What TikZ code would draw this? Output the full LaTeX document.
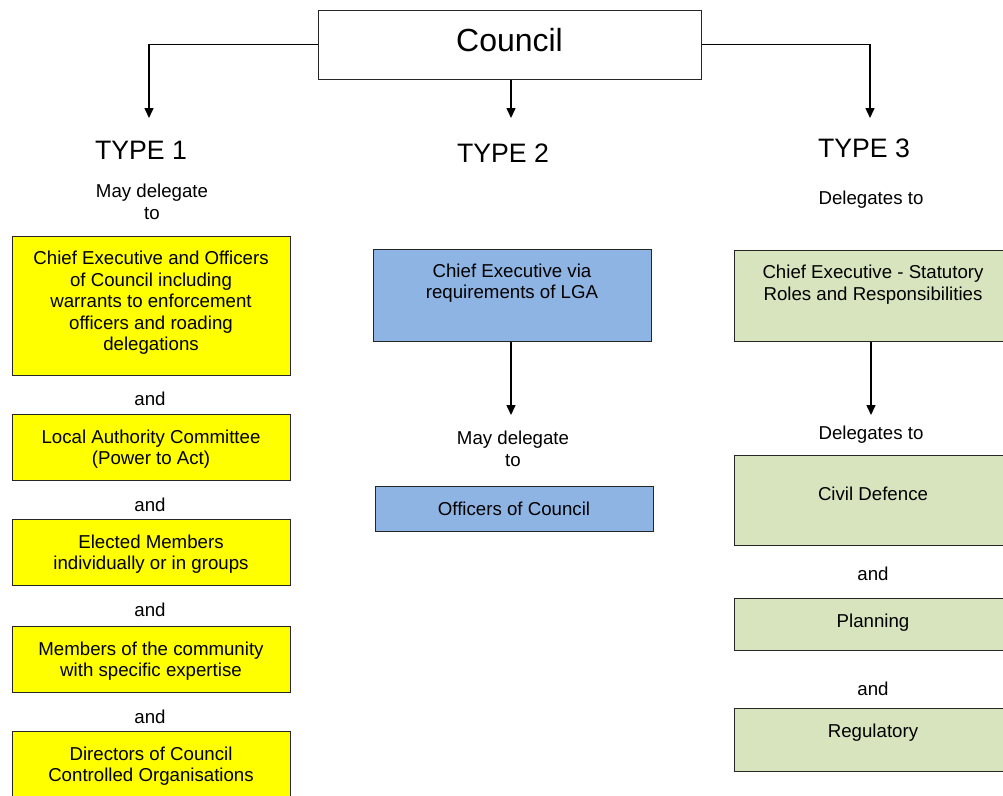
\documentclass[tikz,border=0pt]{standalone}
\usepackage{fontspec}
\setmainfont{Liberation Sans}
\usetikzlibrary{calc}
\usetikzlibrary{arrows.meta}
\definecolor{boxyellow}{HTML}{FFFF00}
\definecolor{boxblue}{HTML}{8EB4E3}
\definecolor{boxgreen}{HTML}{D7E4BD}
\tikzstyle{lbl} = [inner sep=0, align=center, font=\fontsize{18.67}{21.47}\selectfont]
\tikzstyle{typelbl} = [inner sep=0, font=\fontsize{26.67}{30}\selectfont]
\tikzstyle{dbox} = [lbl, draw=black!85, line width=1pt, minimum width=278pt]
\tikzstyle{colorYellow} = [fill=boxyellow]
\tikzstyle{colorBlue} = [fill=boxblue]
\tikzstyle{colorGreen} = [fill=boxgreen]
\tikzstyle{conn} = [line width=1.5pt, -{Triangle[length=10pt,width=9pt]}]

\begin{document}
\begin{tikzpicture}[x=1pt,y=-1pt]
    \useasboundingbox (0,0) rectangle (1003,795);

    \node[dbox, minimum width=383pt, minimum height=69pt, font=\fontsize{32}{36}\selectfont, text depth=9pt] (council) at (509.5,44.5) {Council};

    \node[typelbl] (type1) at (141,150) {TYPE 1};
    \node[typelbl] (type2) at (503,153) {TYPE 2};
    \node[typelbl] (type3) at (864,148) {TYPE 3};

    \coordinate (t1) at (149,118);
    \coordinate (t2) at (511,118);
    \coordinate (t3) at (870,118);
    \draw[conn] (council.west) -| (t1);
    \draw[conn] (council.south -| t2) -- (t2);
    \draw[conn] (council.east) -| (t3);

    \node[lbl] (may1) at (152,202) {May delegate\\to};
    \node[dbox, colorYellow, minimum height=139pt, text depth=9pt] (yel1) at (151,305.5) {Chief Executive and Officers\\of Council including\\warrants to enforcement\\officers and roading\\delegations};
    \node[lbl] (and1) at (150,399) {and};
    \node[dbox, colorYellow, minimum height=66pt, text depth=0pt] (yel2) at (151,447) {Local Authority Committee\\(Power to Act)};
    \node[lbl] (and2) at (150,505) {and};
    \node[dbox, colorYellow, minimum height=66pt, text depth=0pt] (yel3) at (151,552) {Elected Members\\individually or in groups};
    \node[lbl] (and3) at (150,610) {and};
    \node[dbox, colorYellow, minimum height=66pt, text depth=0pt] (yel4) at (151,659) {Members of the community\\with specific expertise};
    \node[lbl] (and4) at (150,717) {and};
    \node[dbox, colorYellow, minimum height=66pt, text depth=0pt] (yel5) at (151,764) {Directors of Council\\Controlled Organisations};

    \node[dbox, colorBlue, minimum height=92pt, text depth=28pt] (blu1) at (512,295) {Chief Executive via\\requirements of LGA};
    \coordinate (t4) at (511,415);
    \draw[conn] (blu1.south -| t4) -- (t4);
    \node[lbl] (may2) at (513,449) {May delegate\\to};
    \node[dbox, colorBlue, minimum height=45pt] (blu2) at (514,508.5) {Officers of Council};

    \node[lbl] (dto1) at (871,200) {Delegates to};
    \node[dbox, colorGreen, minimum height=91pt, text depth=26pt] (grn1) at (873,295.5) {Chief Executive - Statutory\\Roles and Responsibilities};
    \coordinate (t5) at (871,415);
    \draw[conn] (grn1.south -| t5) -- (t5);
    \node[lbl] (dto2) at (871,435) {Delegates to};
    \node[dbox, colorGreen, minimum height=90pt, text depth=12pt] (grn2) at (873,500) {Civil Defence};
    \node[lbl] (and5) at (873,574) {and};
    \node[dbox, colorGreen, minimum height=52pt, text depth=6pt] (grn3) at (873,624) {Planning};
    \node[lbl] (and6) at (873,689) {and};
    \node[dbox, colorGreen, minimum height=63pt, text depth=17pt] (grn4) at (873,739.5) {Regulatory};
\end{tikzpicture}
\end{document}
